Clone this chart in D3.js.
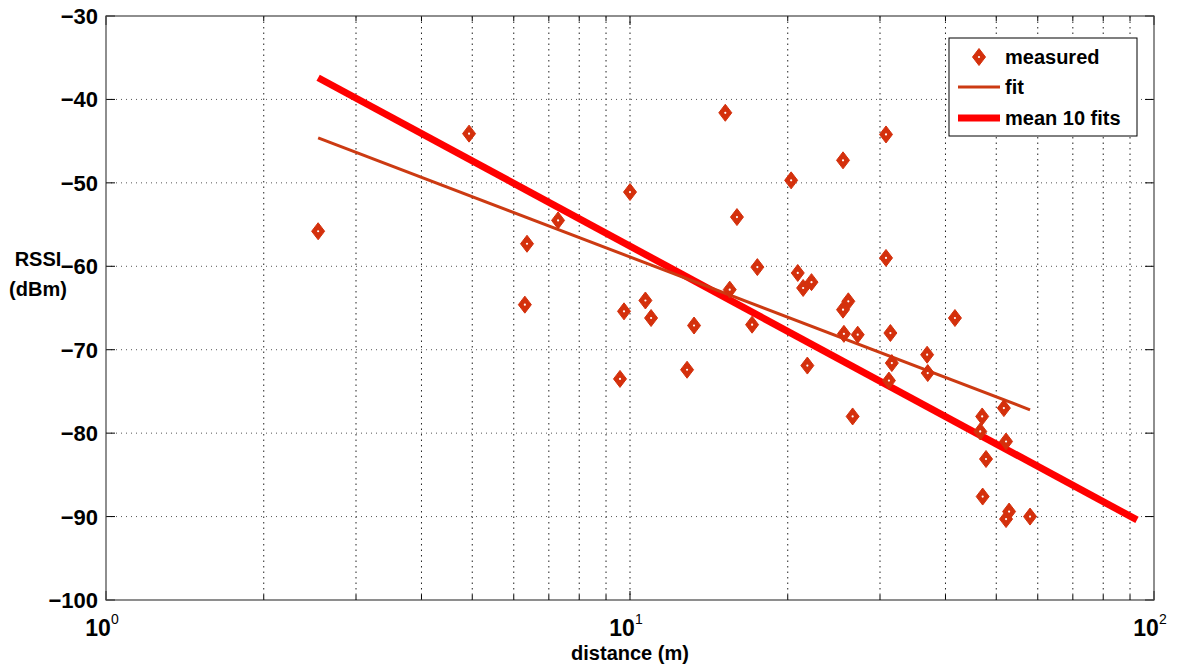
<!DOCTYPE html>
<html>
<head>
<meta charset="utf-8">
<script src="https://cdn.jsdelivr.net/npm/d3@7"></script>
<style>
  body { margin: 0; background: #fff; }
  svg text { font-family: "Liberation Sans", Arial, sans-serif; font-weight: bold; fill: #000; }
</style>
</head>
<body>
<div id="vis"></div>
<script>
// measured points: distance (m), RSSI (dBm)
var measured_x = [2.54, 4.93, 6.36, 6.30, 7.29, 10.0, 9.74, 10.7, 10.97, 9.57, 12.85, 13.25,
  15.2, 16.0, 15.5, 17.5, 17.1, 20.3, 20.9, 21.4, 22.2, 21.8, 25.5, 26.1, 25.5, 25.6, 27.2, 26.6,
  30.8, 30.8, 31.4, 31.6, 31.2, 36.9, 37.0, 41.7, 51.7, 47.0, 46.6, 52.2, 47.8, 47.1, 52.9, 52.2, 58.0];
var measured_y = [-55.8, -44.1, -57.3, -64.6, -54.5, -51.1, -65.4, -64.1, -66.2, -73.5, -72.4, -67.1,
  -41.6, -54.1, -62.8, -60.1, -67.0, -49.7, -60.8, -62.6, -61.9, -71.9, -47.3, -64.2, -65.2, -68.1, -68.2, -78.0,
  -44.2, -59.0, -68.0, -71.6, -73.7, -70.6, -72.8, -66.2, -77.0, -78.0, -79.8, -81.0, -83.1, -87.6, -89.4, -90.3, -90.0];

// fitted lines (end points)
var fit_x = [2.54, 58.0];
var fit_y = [-44.6, -77.2];
var mean_x = [2.54, 92.8];
var mean_y = [-37.4, -90.4];

var legend_labels = ['measured', 'fit', 'mean 10 fits'];
var y_ticks = [-30, -40, -50, -60, -70, -80, -90, -100];
var x_ticks = [1, 10, 100];

var color_marker = '#d4300c';
var color_fit = '#cc3a12';
var color_mean = '#ff0000';

var width = 1200, height = 667;
var margin = { top: 16, right: 46, bottom: 67, left: 106 };

var svg = d3.select('#vis')
  .append('svg')
  .attr('width', width)
  .attr('height', height);

var w = width - margin.left - margin.right;
var h = height - margin.top - margin.bottom;

var g = svg.append('g')
  .attr('transform', 'translate(' + margin.left + ',' + margin.top + ')');

var x_scale = d3.scaleLog().domain([1, 100]).range([0, w]);
var y_scale = d3.scaleLinear().domain([-100, -30]).range([h, 0]);

// minor + major log positions
var x_all = [];
[1, 10].forEach(function(d) {
  for (var k = 1; k <= 9; k++) x_all.push(d * k);
});
x_all.push(100);

// grid
g.selectAll('.xgrid')
  .data(x_all.filter(function(d) { return d > 1 && d < 100; }))
  .enter().append('line')
  .attr('x1', function(d) { return x_scale(d); })
  .attr('x2', function(d) { return x_scale(d); })
  .attr('y1', 0).attr('y2', h)
  .attr('stroke', '#222')
  .attr('stroke-width', 1)
  .attr('stroke-dasharray', '1.5,4');

g.selectAll('.ygrid')
  .data(y_ticks.filter(function(d) { return d > -100 && d < -30; }))
  .enter().append('line')
  .attr('x1', 0).attr('x2', w)
  .attr('y1', function(d) { return y_scale(d); })
  .attr('y2', function(d) { return y_scale(d); })
  .attr('stroke', '#555')
  .attr('stroke-width', 1)
  .attr('stroke-dasharray', '1,4');

// inward ticks on all four sides
g.selectAll('.xtick')
  .data(x_all)
  .enter().append('path')
  .attr('d', function(d) {
    var x = x_scale(d);
    var len = (d === 1 || d === 10 || d === 100) ? 9 : 5;
    return 'M' + x + ',' + h + 'v' + (-len) + 'M' + x + ',0v' + len;
  })
  .attr('stroke', '#000')
  .attr('stroke-width', 1);

g.selectAll('.ytick')
  .data(y_ticks)
  .enter().append('path')
  .attr('d', function(d) {
    var y = y_scale(d);
    return 'M0,' + y + 'h9M' + w + ',' + y + 'h-9';
  })
  .attr('stroke', '#000')
  .attr('stroke-width', 1);

// frame
g.append('rect')
  .attr('width', w).attr('height', h)
  .attr('fill', 'none')
  .attr('stroke', '#444')
  .attr('stroke-width', 1.2);

// y tick labels
g.selectAll('.ylab')
  .data(y_ticks)
  .enter().append('text')
  .attr('x', -8)
  .attr('y', function(d) { return y_scale(d) + 8; })
  .attr('text-anchor', 'end')
  .style('font-size', '22px')
  .text(function(d) { return '\u2212' + Math.abs(d); });

// x tick labels 10^n
var xl = g.selectAll('.xlab')
  .data(x_ticks)
  .enter().append('text')
  .attr('x', function(d) { return x_scale(d) - 4; })
  .attr('y', h + 36)
  .attr('text-anchor', 'middle')
  .style('font-size', '23px');
xl.append('tspan').text('10');
xl.append('tspan')
  .attr('dy', -12)
  .style('font-size', '14px')
  .style('font-weight', 'normal')
  .text(function(d) { return Math.round(Math.log10(d)); });

// axis labels
g.append('text')
  .attr('x', w / 2)
  .attr('y', h + 60)
  .attr('text-anchor', 'middle')
  .style('font-size', '20px')
  .text('distance (m)');

svg.append('text')
  .attr('x', 38).attr('y', 266)
  .attr('text-anchor', 'middle')
  .style('font-size', '20px')
  .text('RSSI');
svg.append('text')
  .attr('x', 38).attr('y', 296)
  .attr('text-anchor', 'middle')
  .style('font-size', '20px')
  .text('(dBm)');

// lines
var line = d3.line()
  .x(function(d) { return x_scale(d[0]); })
  .y(function(d) { return y_scale(d[1]); });

g.append('path')
  .datum(d3.zip(mean_x, mean_y))
  .attr('d', line)
  .attr('fill', 'none')
  .attr('stroke', color_mean)
  .attr('stroke-width', 7);

g.append('path')
  .datum(d3.zip(fit_x, fit_y))
  .attr('d', line)
  .attr('fill', 'none')
  .attr('stroke', color_fit)
  .attr('stroke-width', 3);

// diamond marker: solid with a tiny white centre
function diamond(cx, cy) {
  return 'M' + cx + ',' + (cy - 8.5) + 'L' + (cx + 6.5) + ',' + cy +
    'L' + cx + ',' + (cy + 8.5) + 'L' + (cx - 6.5) + ',' + cy + 'Z';
}

function add_marker(sel, cx, cy) {
  sel.append('path')
    .attr('d', diamond(cx, cy))
    .attr('fill', color_marker)
    .attr('stroke', color_marker)
    .attr('stroke-width', 1);
  sel.append('circle')
    .attr('cx', cx).attr('cy', cy)
    .attr('r', 1.1)
    .attr('fill', '#fff');
}

var pts = g.append('g');
d3.zip(measured_x, measured_y).forEach(function(d) {
  add_marker(pts, x_scale(d[0]), y_scale(d[1]));
});

// legend
var lg = svg.append('g').attr('transform', 'translate(949,38)');
lg.append('rect')
  .attr('width', 188).attr('height', 98)
  .attr('fill', '#fff')
  .attr('stroke', '#000')
  .attr('stroke-width', 1);

var rows = [19, 49, 80];
add_marker(lg, 30, rows[0]);
lg.append('line')
  .attr('x1', 9).attr('x2', 51)
  .attr('y1', rows[1]).attr('y2', rows[1])
  .attr('stroke', color_fit).attr('stroke-width', 3);
lg.append('line')
  .attr('x1', 9).attr('x2', 51)
  .attr('y1', rows[2]).attr('y2', rows[2])
  .attr('stroke', color_mean).attr('stroke-width', 7);

lg.selectAll('.lt')
  .data(legend_labels)
  .enter().append('text')
  .attr('x', 56)
  .attr('y', function(d, i) { return rows[i] + 7; })
  .style('font-size', '20px')
  .text(function(d) { return d; });
</script>
</body>
</html>
